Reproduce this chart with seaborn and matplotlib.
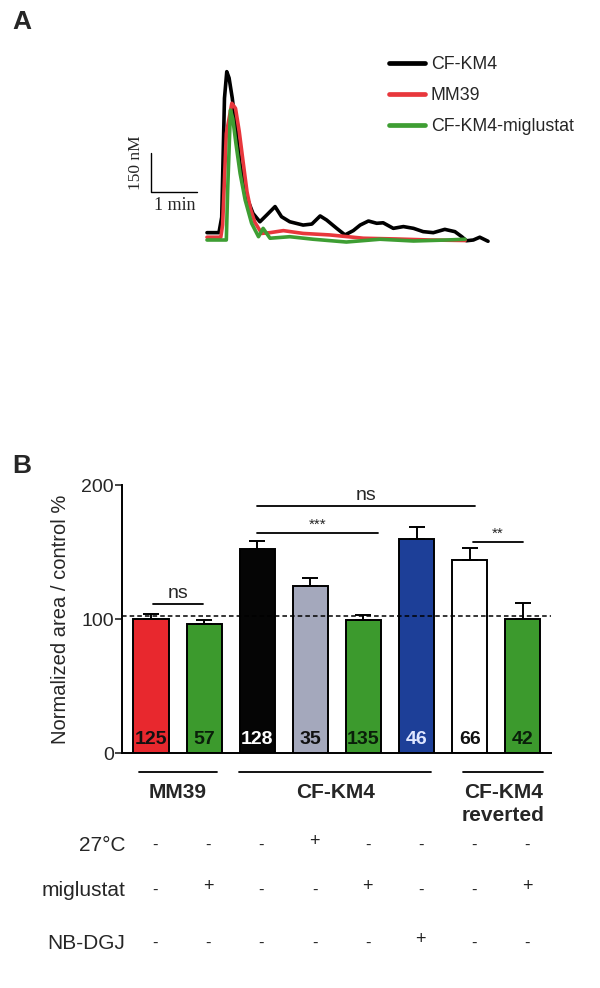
import numpy as np
import pandas as pd
import matplotlib
matplotlib.use("Agg")
import matplotlib.pyplot as plt
import matplotlib.transforms as mtransforms
import seaborn as sns

# ---------------- data: panel A traces (time in min, Ca2+ in nM above baseline) -------------
black_t = [0, 0.26, 0.32, 0.38, 0.43, 0.48, 0.55, 0.64, 0.72, 0.86, 1.0, 1.15, 1.3, 1.48, 1.62, 1.8,
           2.09, 2.28, 2.46, 2.6, 2.82, 3.0, 3.18, 3.33, 3.51, 3.69, 3.83, 4.05, 4.27, 4.49, 4.7,
           4.92, 5.17, 5.39, 5.54, 5.64, 5.79, 5.93, 6.11]
black_c = [29, 29, 90, 560, 665, 640, 560, 420, 300, 171, 105, 72, 99, 132, 92, 72,
           59, 63, 95, 79, 46, 20, 37, 59, 75, 66, 68, 46, 53, 46, 33,
           29, 42, 33, 13, -3, 0, 11, -5]
red_t = [0, 0.3, 0.34, 0.42, 0.54, 0.62, 0.7, 0.78, 0.87, 0.95, 1.04, 1.19, 1.37, 1.66, 2.09, 2.67,
         3.4, 4.12, 4.85, 5.61]
red_c = [11, 11, 60, 420, 540, 520, 430, 316, 190, 120, 70, 26, 29, 37, 26, 20, 7, 4, 0, -2]
green_t = [0, 0.42, 0.45, 0.51, 0.56, 0.63, 0.72, 0.83, 0.97, 1.12, 1.22, 1.37, 1.8, 2.31, 3.03,
           3.76, 4.49, 5.21, 5.61]
green_c = [0, 0, 200, 513, 480, 380, 263, 158, 66, 13, 46, 7, 13, 3, -8, 3, -4, 0, 3]
trace_names = ["CF-KM4", "MM39", "CF-KM4-miglustat"]

# ---------------- data: panel B bars -------------
bar_ids = ["MM39", "MM39 + miglustat", "CF-KM4", "CF-KM4 27°C", "CF-KM4 + miglustat",
           "CF-KM4 + NB-DGJ", "CF-KM4 reverted", "CF-KM4 reverted + miglustat"]
bar_values = [100, 96, 152, 124.5, 99, 159.5, 144, 100]
bar_errors = [3.5, 3, 6, 6, 4, 9, 8.7, 11.6]
bar_counts = ["125", "57", "128", "35", "135", "46", "66", "42"]
row_labels = ["27°C", "miglustat", "NB-DGJ"]
row_27C = ["-", "-", "-", "+", "-", "-", "-", "-"]
row_miglustat = ["-", "+", "-", "-", "+", "-", "-", "+"]
row_nbdgj = ["-", "-", "-", "-", "-", "+", "-", "-"]
group_labels = [["MM39"], ["CF-KM4"], ["CF-KM4", "reverted"]]

# ---------------- style -------------
sns.set_style("white")
plt.rcParams["font.family"] = ["Liberation Sans", "DejaVu Sans"]

W, H = 600, 988
fig = plt.figure(figsize=(W / 100, H / 100), dpi=100)
fig.patch.set_facecolor("white")


def fx(px):
    return px / W


def fy(py):
    return 1 - py / H


# ---------------- panel A -------------
axA = fig.add_axes([fx(100), fy(260), fx(500) - fx(100), fy(60) - fy(260)])
c_black, c_red, c_green = "#000000", "#e8373c", "#3e9e33"
for t, c, name, col, z in [(black_t, black_c, trace_names[0], c_black, 2),
                           (red_t, red_c, trace_names[1], c_red, 3),
                           (green_t, green_c, trace_names[2], c_green, 4)]:
    df = pd.DataFrame({"t": t, "c": c})
    sns.lineplot(data=df, x="t", y="c", ax=axA, color=col, lw=2.6, sort=False,
                 label=name, zorder=z)
axA.set_xlim(-2.326, 6.37)
axA.set_ylim(-79, 711)
axA.axis("off")
# scale bar (150 nM, 1 min)
axA.plot([-1.224, -1.224, -0.224], [344, 191, 191], color="black", lw=1.0)
axA.text(-1.54, 304, "150 nM", rotation=90, ha="center", va="center",
         family=["Liberation Serif"], fontsize=12.5)
axA.text(-0.707, 138, "1 min", ha="center", va="center",
         family=["Liberation Serif"], fontsize=13)
handles, labels = axA.get_legend_handles_labels()
order = [labels.index(n) for n in trace_names]
leg = axA.legend([handles[i] for i in order], [labels[i] for i in order],
                 loc="upper left", bbox_to_anchor=(fx(389), fy(56)),
                 bbox_transform=fig.transFigure, frameon=False, fontsize=12.8,
                 handlelength=2.05, handletextpad=0.3, labelspacing=0.78,
                 borderpad=0, borderaxespad=0)
for lh in leg.get_lines():
    lh.set_linewidth(3.4)

fig.text(fx(12), fy(22), "A", fontsize=19, fontweight="bold", ha="left", va="center")
fig.text(fx(12), fy(466), "B", fontsize=19, fontweight="bold", ha="left", va="center")

# ---------------- panel B -------------
axB = fig.add_axes([fx(122), fy(753), fx(551) - fx(122), fy(485) - fy(753)])
bar_colors = ["#e8282e", "#3c9a2d", "#050505", "#a4a8bc", "#3c9a2d", "#1d3f98", "#ffffff", "#3c9a2d"]
dfB = pd.DataFrame({"id": bar_ids, "value": bar_values})
sns.barplot(data=dfB, x="id", y="value", hue="id", palette=bar_colors, order=bar_ids,
            hue_order=bar_ids, legend=False, ax=axB, width=0.66, errorbar=None,
            edgecolor="black", linewidth=1.4, saturation=1)
xpos = np.arange(len(bar_ids))
axB.errorbar(xpos, bar_values, yerr=[np.zeros(len(bar_errors)), bar_errors], fmt="none",
             ecolor="black", elinewidth=1.4, capsize=6, capthick=1.4, zorder=1)
axB.set_xlim(-0.546, 7.53)
axB.set_ylim(0, 200)
axB.set_yticks([0, 100, 200])
axB.set_xticks([])
axB.set_xlabel("")
axB.set_ylabel("Normalized area / control %", fontsize=14.5, labelpad=8)
axB.tick_params(axis="y", labelsize=14, length=5, width=1.2, pad=1, left=True, direction="out")
sns.despine(ax=axB)
for s in ["left", "bottom"]:
    axB.spines[s].set_linewidth(1.4)
    axB.spines[s].set_color("black")
axB.axhline(102, color="black", lw=1.1, ls=(0, (3, 2)), zorder=5)

count_colors = ["#111111", "#0a1f0a", "#ffffff", "#111111", "#0a1f0a", "#dfe6ff", "#111111", "#0a1f0a"]
for i, (n, col) in enumerate(zip(bar_counts, count_colors)):
    axB.text(i, 10, n, ha="center", va="center", fontsize=14, fontweight="bold",
             color=col, zorder=6)


# significance brackets
def sig(x0, x1, y, txt, fs, dy):
    axB.plot([x0, x1], [y, y], color="black", lw=1.3, clip_on=False)
    axB.text((x0 + x1) / 2, y + dy, txt, ha="center", va="bottom", fontsize=fs, clip_on=False)


sig(0.04, 0.98, 111, "ns", 14, 1.5)
sig(2.0, 6.1, 184.5, "ns", 14, 1.5)
sig(2.0, 4.28, 164.5, "***", 11, 0.5)
sig(6.07, 7.0, 157.5, "**", 11, 0.5)

# group lines and labels below the axis
blend = mtransforms.blended_transform_factory(axB.transData, fig.transFigure)
groups = [(-0.23, 1.25, group_labels[0]), (1.66, 5.27, group_labels[1]), (5.88, 7.38, group_labels[2])]
for g0, g1, lines in groups:
    axB.plot([g0, g1], [fy(772), fy(772)], transform=blend, color="black", lw=1.3, clip_on=False)
    for k, lab in enumerate(lines):
        axB.text((g0 + g1) / 2, fy(792 + 23 * k), lab, transform=blend, ha="center",
                 va="center", fontsize=15, fontweight="bold")

for row, lab, py in [(row_27C, row_labels[0], 845), (row_miglustat, row_labels[1], 890),
                     (row_nbdgj, row_labels[2], 943)]:
    fig.text(fx(125), fy(py), lab, ha="right", va="center", fontsize=15)
    for i, s in enumerate(row):
        axB.text(i + 0.08, fy(py) + (0.004 if s == "+" else 0), s, transform=blend,
                 ha="center", va="center", fontsize=13 if s == "+" else 12, color="#222222")

fig.savefig("out.png", dpi=100, facecolor="white")
